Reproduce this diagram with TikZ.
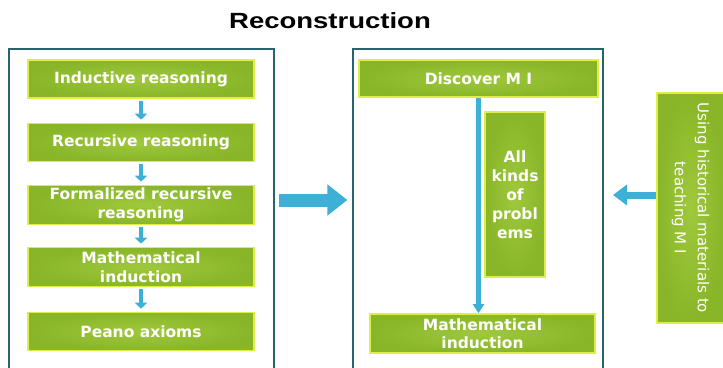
\documentclass[tikz,border=0pt]{standalone}
\usepackage{fontspec}
\setmainfont{Liberation Sans}
\newfontfamily\boxfont{DejaVu Sans}
\usetikzlibrary{positioning,arrows.meta,calc}

\definecolor{mygreen}{RGB}{136,182,40}
\definecolor{mylightgreen}{RGB}{160,200,60}
\definecolor{myyellow}{RGB}{222,238,70}
\definecolor{myframe}{RGB}{40,100,110}
\definecolor{myblue}{RGB}{60,176,214}

\begin{document}
\begin{tikzpicture}[
    x=1pt, y=-1pt,
    gbox/.style={
        draw=myyellow,
        line width=1.6pt,
        inner color=mylightgreen,
        outer color=mygreen,
        text=white,
        font=\boxfont\bfseries\fontsize{15.5}{18.5}\selectfont,
        align=center,
        inner sep=0pt
    },
    frame/.style={
        draw=myframe,
        line width=1.2pt,
        fill=none
    },
    smallarr/.style={
        draw=myblue,
        line width=4.5pt,
        -{Triangle[length=6pt,width=12pt]},
        shorten <=2pt, shorten >=3pt
    },
    bigarr/.style={
        draw=myblue,
        line width=13pt,
        -{Triangle[length=20pt,width=30pt]}
    },
    midarr/.style={
        draw=myblue,
        line width=7pt,
        -{Triangle[length=14pt,width=20pt]}
    },
    longarr/.style={
        draw=myblue,
        line width=5pt,
        -{Triangle[length=9pt,width=11pt]}
    }
]
\useasboundingbox (0,0) rectangle (723,367);
\clip (0,0) rectangle (723,367);

% title
\node[font=\bfseries\fontsize{22}{24}\selectfont, xscale=1.25] (title) at (330,21) {Reconstruction};

% frames
\node[frame, minimum width=265pt, minimum height=336pt] (lframe) at (141.5,217) {};
\node[frame, minimum width=250pt, minimum height=336pt] (mframe) at (478,217) {};

% left column
\node[gbox, minimum width=226pt, minimum height=38pt] (ind) at (141,79) {Inductive reasoning};
\node[gbox, minimum width=226pt, minimum height=38pt] (rec) at (141,142.5) {Recursive reasoning};
\node[gbox, minimum width=226pt, minimum height=39pt] (form) at (141,205) {Formalized recursive\\reasoning};
\node[gbox, minimum width=226pt, minimum height=39pt] (mind) at (141,267) {Mathematical\\induction};
\node[gbox, minimum width=226pt, minimum height=38pt] (peano) at (141,331.5) {Peano axioms};

\draw[smallarr] (ind) -- (rec);
\draw[smallarr] (rec) -- (form);
\draw[smallarr] (form) -- (mind);
\draw[smallarr] (mind) -- (peano);

% middle column
\node[gbox, minimum width=239pt, minimum height=37pt] (disc) at (478.5,78.5) {Discover M I};
\node[gbox, minimum width=225pt, minimum height=39pt] (mind2) at (482.5,333.5) {Mathematical\\induction};
\node[gbox, minimum width=60pt, minimum height=165pt,
      font=\boxfont\bfseries\fontsize{15.5}{19}\selectfont] (kinds) at (515,194.5)
      {All\\kinds\\of\\probl\\ems};

\draw[longarr] (disc.south) -- (disc.south |- mind2.north);

% right box
\node[gbox, minimum width=230pt, minimum height=67pt, rotate=-90,
      font=\boxfont\fontsize{15}{23}\selectfont] (hist) at (690.5,208)
      {Using historical  materials to\\teaching M I};

% between the frames
\draw[bigarr] ($(lframe.east)+(4,-17)$) -- ($(mframe.west)+(-5,-17)$);
\coordinate (tipR) at (613,195);
\draw[midarr] (hist.south |- tipR) -- (tipR);

\end{tikzpicture}
\end{document}
